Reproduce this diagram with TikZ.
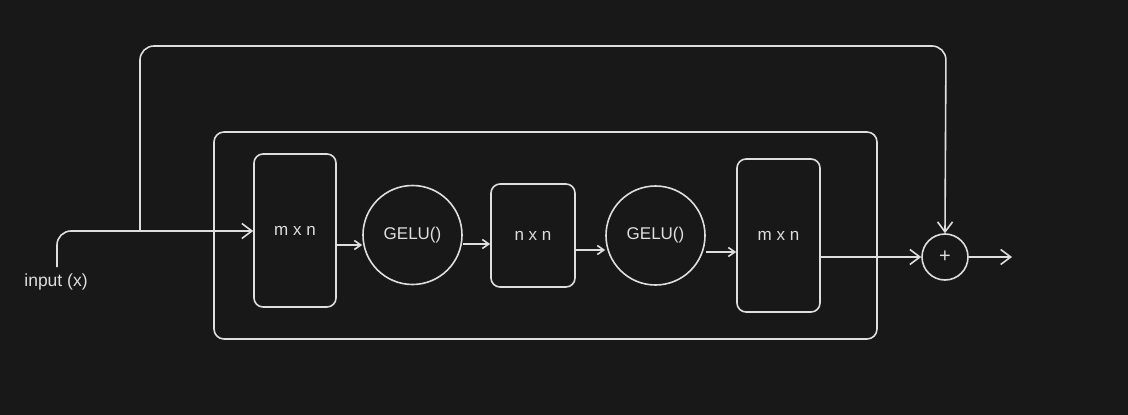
\documentclass[tikz,border=0pt]{standalone}
\usepackage{fontspec}
\setmainfont{Liberation Sans}
\usetikzlibrary{arrows.meta,calc}
\definecolor{bg}{HTML}{181818}
\definecolor{ink}{HTML}{DEDEDE}
\tikzset{
  lbl/.style={text=ink,font=\fontsize{17.5}{20}\selectfont,inner sep=0pt},
  blk/.style={draw=ink,line width=1.6pt,rounded corners=9pt,minimum width=82pt,inner sep=0pt,text=ink,font=\fontsize{17}{19}\selectfont},
  act/.style={draw=ink,line width=1.6pt,circle,minimum size=99pt,inner sep=0pt,text=ink,font=\fontsize{17}{19}\selectfont},
  arr/.style={draw=ink,line width=1.6pt,-{Straight Barb[length=10pt,width=15pt,line width=1.6pt]}},
  sarr/.style={draw=ink,line width=1.6pt,-{Straight Barb[length=6.5pt,width=9pt,line width=1.6pt]}},
}
\begin{document}
\begin{tikzpicture}[x=1pt,y=-1pt]
\fill[bg] (0,0) rectangle (1128,415);
\useasboundingbox (0,0) rectangle (1128,415);
% outer container
\node[draw=ink,line width=1.6pt,rounded corners=10pt,minimum width=663pt,minimum height=207pt,inner sep=0pt] (outer) at (545.5,235.5) {};
% blocks
\node[blk,minimum height=153pt] (b1) at (295,230.5) {m x n};
\node[act] (c1) at (412.5,235) {GELU()};
\node[blk,minimum width=84pt,minimum height=103pt] (b2) at (533,235.5) {n x n};
\node[act] (c2) at (655.5,235.5) {GELU()};
\node[blk,minimum width=83pt,minimum height=153pt] (b3) at (778.5,235.5) {m x n};
\node[draw=ink,line width=1.6pt,circle,minimum size=46pt,inner sep=0pt,text=ink,font=\fontsize{20}{22}\selectfont] (plus) at (945,257) {+};
% input
\node[lbl] (in) at (56,282) {input (x)};
\coordinate (s) at (57,267);
\coordinate (split) at (140,231);
\coordinate (out) at (1012,257);
\draw[arr,rounded corners=14pt] (s) -- (57,231) -- (b1.west |- split);
\draw[arr,rounded corners=14pt] (split) -- (140,46) -- (946,46) -- (plus.north);
% chain
\coordinate (p1) at ($(b1.east)+(0,14.5)$);
\draw[sarr] (p1) -- (p1 -| c1.west);
\coordinate (p2) at ($(c1.east)+(0,9)$);
\draw[sarr] (p2) -- (p2 -| b2.west);
\coordinate (p3) at ($(b2.east)+(0,14.5)$);
\draw[sarr] (p3) -- (p3 -| c2.west);
\coordinate (p4) at ($(c2.east)+(0,16.5)$);
\draw[sarr] (p4) -- (p4 -| b3.west);
\draw[arr] (b3.east |- plus) -- (plus.west);
\draw[arr] (plus.east) -- (out);
\end{tikzpicture}
\end{document}
